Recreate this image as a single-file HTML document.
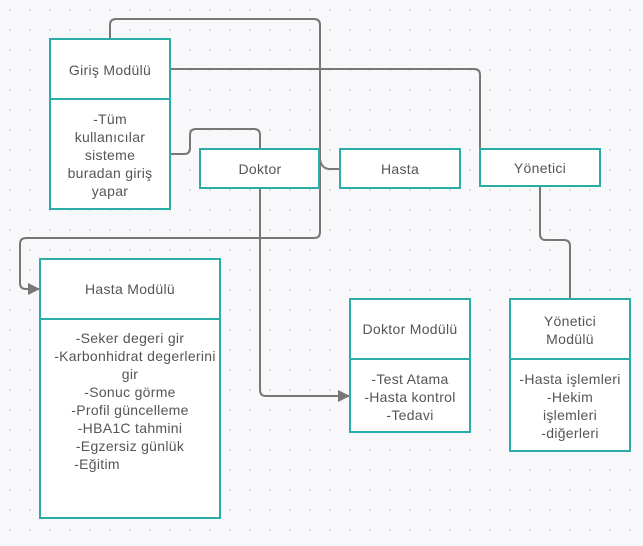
<!DOCTYPE html>
<html><head><meta charset="utf-8"><style>
body{margin:0;width:643px;height:541px;overflow:hidden;background:#f8f8fa;font-family:"Liberation Sans",sans-serif}
svg text{font-family:"Liberation Sans",sans-serif;font-size:14px;letter-spacing:0.3px;fill:#555;text-anchor:middle}
</style></head><body>
<svg width="643" height="541">
<defs>
<pattern id="dots" width="20" height="20" patternUnits="userSpaceOnUse"><circle cx="10" cy="10" r="1" fill="#d8d8dc"/></pattern>
<marker id="arr" markerWidth="12" markerHeight="12" refX="11" refY="6" orient="auto" markerUnits="userSpaceOnUse"><path d="M0,0 L12,6 L0,12 z" fill="#777"/></marker>
</defs>
<rect width="643" height="541" fill="url(#dots)"/>
<g fill="none" stroke="#777" stroke-width="2">
<path d="M110,39 V25 Q110,19 116,19 H314 Q320,19 320,25 V232 Q320,238 314,238 H26 Q20,238 20,244 V283 Q20,289 26,289 H39" marker-end="url(#arr)"/>
<path d="M320,160 Q322,169 330,169 H340"/>
<path d="M170,69 H474 Q480,69 480,75 V168"/>
<path d="M170,154 H184 Q190,154 190,148 V135 Q190,129 196,129 H254 Q260,129 260,135 V149"/>
<path d="M260,188 V390 Q260,396 266,396 H349" marker-end="url(#arr)"/>
<path d="M540,186 V234 Q540,240 546,240 H564 Q570,240 570,246 V299"/>
</g>
<g fill="#fff" stroke="#2aaca8" stroke-width="2">
<g><rect x="50" y="39" width="120" height="170"/><line x1="50" y1="99" x2="170" y2="99"/></g>
<rect x="200" y="149" width="119" height="39"/>
<rect x="340" y="149" width="120" height="39"/>
<rect x="480" y="149" width="120" height="37"/>
<g><rect x="40" y="259" width="180" height="259"/><line x1="40" y1="319" x2="220" y2="319"/></g>
<g><rect x="350" y="299" width="120" height="133"/><line x1="350" y1="359" x2="470" y2="359"/></g>
<g><rect x="510" y="299" width="120" height="152"/><line x1="510" y1="359" x2="630" y2="359"/></g>
</g>
<text x="110" y="75">Giriş Modülü</text>
<text x="110" y="124"><tspan x="110">-Tüm</tspan><tspan x="110" dy="18">kullanıcılar</tspan><tspan x="110" dy="18">sisteme</tspan><tspan x="110" dy="18">buradan giriş</tspan><tspan x="110" dy="18">yapar</tspan></text>
<text x="260" y="174">Doktor</text>
<text x="400" y="174">Hasta</text>
<text x="540" y="173">Yönetici</text>
<text x="130" y="294">Hasta Modülü</text>
<text x="130" y="343"><tspan x="130">-Seker degeri gir</tspan><tspan x="135" dy="18">-Karbonhidrat degerlerini</tspan><tspan x="130" dy="18">gir</tspan><tspan x="130" dy="18">-Sonuc görme</tspan><tspan x="130" dy="18">-Profil güncelleme</tspan><tspan x="130" dy="18">-HBA1C tahmini</tspan><tspan x="130" dy="18">-Egzersiz günlük</tspan><tspan x="97" dy="18">-Eğitim</tspan></text>
<text x="410" y="334">Doktor Modülü</text>
<text x="410" y="384"><tspan x="410">-Test Atama</tspan><tspan x="410" dy="18">-Hasta kontrol</tspan><tspan x="410" dy="18">-Tedavi</tspan></text>
<text x="570" y="326"><tspan x="570">Yönetici</tspan><tspan x="570" dy="18">Modülü</tspan></text>
<text x="570" y="384"><tspan x="570">-Hasta işlemleri</tspan><tspan x="570" dy="18">-Hekim</tspan><tspan x="570" dy="18">işlemleri</tspan><tspan x="570" dy="18">-diğerleri</tspan></text>
</svg>
</body></html>
